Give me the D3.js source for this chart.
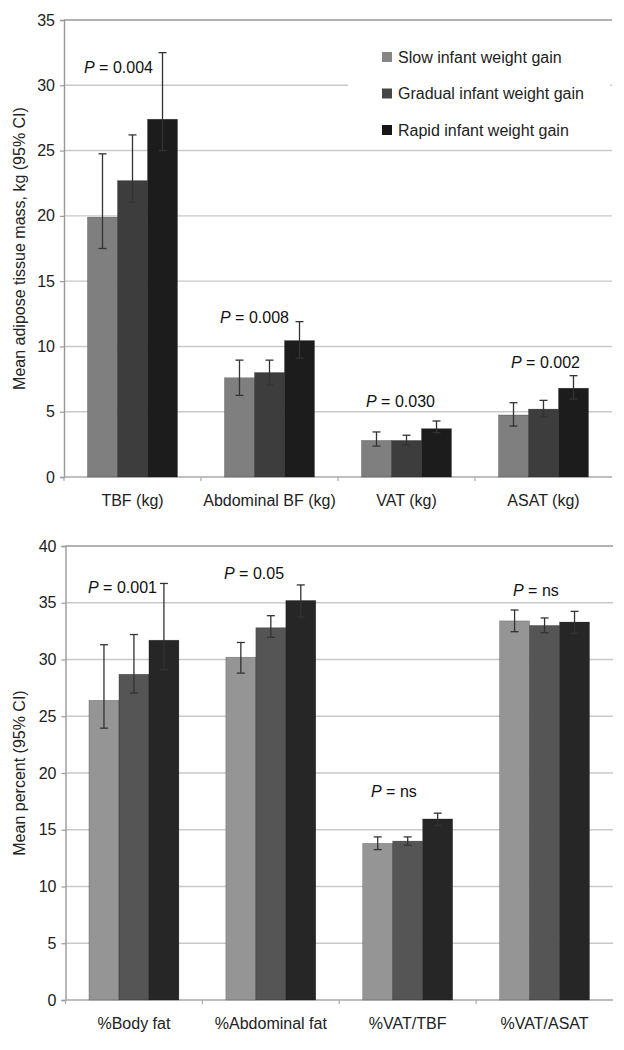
<!DOCTYPE html>
<html>
<head>
<meta charset="utf-8">
<script src="https://cdn.jsdelivr.net/npm/d3@7"></script>
<style>
  html, body { margin: 0; padding: 0; background: #fff; }
  text { font-family: "Liberation Sans", Arial, Helvetica, sans-serif; }
</style>
</head>
<body>
<svg id="chart" width="624" height="1050"></svg>
<script>
// ---------- DATA ----------
const series = ["Slow infant weight gain", "Gradual infant weight gain", "Rapid infant weight gain"];

// Top panel: adipose tissue mass (kg)
const topCategories = ["TBF (kg)", "Abdominal BF (kg)", "VAT (kg)", "ASAT (kg)"];
const topMeans = [
  [19.9, 22.7, 27.4],
  [7.6, 8.0, 10.45],
  [2.8, 2.8, 3.7],
  [4.75, 5.2, 6.8]
];
const topLower = [
  [17.5, 21.05, 25.0],
  [6.25, 7.05, 9.1],
  [2.37, 2.45, 3.4],
  [3.9, 4.62, 5.97]
];
const topUpper = [
  [24.75, 26.2, 32.5],
  [8.95, 8.95, 11.9],
  [3.45, 3.2, 4.29],
  [5.69, 5.87, 7.76]
];
const topPLabels = ["0.004", "0.008", "0.030", "0.002"];
const topTicks = [0, 5, 10, 15, 20, 25, 30, 35];

// Bottom panel: percent
const botCategories = ["%Body fat", "%Abdominal fat", "%VAT/TBF", "%VAT/ASAT"];
const botMeans = [
  [26.4, 28.7, 31.7],
  [30.2, 32.8, 35.2],
  [13.8, 14.0, 15.95],
  [33.4, 33.0, 33.3]
];
const botLower = [
  [23.95, 27.05, 29.1],
  [28.8, 31.95, 33.75],
  [13.25, 13.64, 15.37],
  [32.45, 32.36, 32.3]
];
const botUpper = [
  [31.3, 32.2, 36.7],
  [31.5, 33.86, 36.57],
  [14.37, 14.37, 16.46],
  [34.36, 33.66, 34.24]
];
const botPLabels = ["0.001", "0.05", "ns", "ns"];
const botTicks = [0, 5, 10, 15, 20, 25, 30, 35, 40];

// ---------- DRAW ----------
const svg = d3.select("#chart");

function panel(opts) {
  const { cats, means, lower, upper, pLabels, ticks, yMax, x0, x1, yTop, yBottom,
          colors, title, pPos, legend } = opts;
  const g = svg.append("g");

  const x = d3.scaleBand().domain(cats).range([x0, x1]).paddingInner(0.343).paddingOuter(0.1715);
  const xs = d3.scaleBand().domain(series).range([0, x.bandwidth()]);
  const y = d3.scaleLinear().domain([0, yMax]).range([yBottom, yTop]);

  // gridlines
  g.append("g").selectAll("line").data(ticks.filter(t => t > 0)).join("line")
    .attr("x1", x0).attr("x2", x1)
    .attr("y1", d => y(d)).attr("y2", d => y(d))
    .attr("stroke", d => d === yMax ? "#999" : "#c9c9c9")
    .attr("stroke-width", 1.4);

  // legend background (covers gridline)
  if (legend) {
    g.append("rect").attr("x", 348).attr("y", 34).attr("width", 262).attr("height", 112).attr("fill", "#fff");
  }

  // y axis
  const yAxis = d3.axisLeft(y).tickValues(ticks).tickSize(4).tickPadding(5).tickFormat(d3.format("d"));
  const ya = g.append("g").attr("transform", `translate(${x0},0)`).call(yAxis);
  ya.select(".domain").attr("stroke", "#999").attr("stroke-width", 1.4);
  ya.selectAll(".tick line").attr("stroke", "#999").attr("stroke-width", 1.2);
  ya.selectAll(".tick text").attr("font-size", 16).attr("fill", "#222")
    .attr("font-family", '"Liberation Sans", Arial, sans-serif');

  // x axis baseline and category separators
  const step = x.step();
  const seps = d3.range(cats.length + 1).map(i => x0 + i * step);
  g.append("line").attr("x1", x0).attr("x2", x1).attr("y1", yBottom).attr("y2", yBottom)
    .attr("stroke", "#aaa").attr("stroke-width", 1.4);
  g.append("g").selectAll("line").data(seps.slice(0, cats.length)).join("line")
    .attr("x1", d => d).attr("x2", d => d).attr("y1", yBottom).attr("y2", yBottom + 4)
    .attr("stroke", "#aaa").attr("stroke-width", 1.2);

  // category labels
  g.append("g").selectAll("text").data(cats).join("text")
    .attr("x", d => x(d) + x.bandwidth() / 2)
    .attr("y", yBottom + 29)
    .attr("text-anchor", "middle").attr("font-size", 16).attr("fill", "#222")
    .text(d => d);

  // bars
  const flat = [];
  cats.forEach((c, i) => series.forEach((s, j) => flat.push({
    c, s, j, m: means[i][j], lo: lower[i][j], hi: upper[i][j]
  })));

  g.append("g").selectAll("rect").data(flat).join("rect")
    .attr("x", d => x(d.c) + xs(d.s))
    .attr("y", d => y(d.m))
    .attr("width", xs.bandwidth())
    .attr("height", d => y(0) - y(d.m))
    .attr("fill", d => colors[d.j])
    .attr("stroke", "rgba(0,0,0,0.35)").attr("stroke-width", 0.6);

  // error bars
  const eb = g.append("g").selectAll("g").data(flat).join("g")
    .attr("stroke", "#333").attr("stroke-width", 1.3);
  const cx = d => x(d.c) + xs(d.s) + xs.bandwidth() / 2;
  eb.append("line").attr("x1", cx).attr("x2", cx).attr("y1", d => y(d.lo)).attr("y2", d => y(d.hi));
  eb.append("line").attr("x1", d => cx(d) - 4).attr("x2", d => cx(d) + 4).attr("y1", d => y(d.hi)).attr("y2", d => y(d.hi));
  eb.append("line").attr("x1", d => cx(d) - 4).attr("x2", d => cx(d) + 4).attr("y1", d => y(d.lo)).attr("y2", d => y(d.lo));

  // P labels
  const pl = g.append("g").selectAll("text").data(pLabels).join("text")
    .attr("x", (d, i) => pPos[i][0])
    .attr("y", (d, i) => pPos[i][1])
    .attr("font-size", 16).attr("fill", "#111").attr("dominant-baseline", "central");
  pl.append("tspan").attr("font-style", "italic").text("P");
  pl.append("tspan").text(d => " = " + d);

  // y title
  g.append("text")
    .attr("transform", `translate(25,${(yTop + yBottom) / 2}) rotate(-90)`)
    .attr("text-anchor", "middle").attr("font-size", 16).attr("fill", "#222")
    .text(title);

  // legend
  if (legend) {
    const lg = g.append("g").selectAll("g").data(series).join("g")
      .attr("transform", (d, i) => `translate(382,${57 + i * 36.5})`);
    lg.append("rect").attr("x", 0).attr("y", -5).attr("width", 10).attr("height", 10)
      .attr("fill", (d, i) => legend[i]);
    lg.append("text").attr("x", 16).attr("y", 0).attr("dominant-baseline", "central")
      .attr("font-size", 16).attr("fill", "#222").text(d => d);
  }
}

panel({
  cats: topCategories, means: topMeans, lower: topLower, upper: topUpper,
  pLabels: topPLabels, ticks: topTicks, yMax: 35,
  x0: 64, x1: 612, yTop: 20, yBottom: 477,
  colors: ["#7f7f7f", "#3d3d3d", "#1c1c1c"],
  title: "Mean adipose tissue mass, kg (95% CI)",
  pPos: [[84, 67], [220, 317], [366, 401], [511, 362]],
  legend: ["#858585", "#454545", "#161616"]
});

panel({
  cats: botCategories, means: botMeans, lower: botLower, upper: botUpper,
  pLabels: botPLabels, ticks: botTicks, yMax: 40,
  x0: 65.5, x1: 613, yTop: 546, yBottom: 1000,
  colors: ["#959595", "#555555", "#262626"],
  title: "Mean percent (95% CI)",
  pPos: [[88, 587], [224, 573], [371, 791], [513, 590]],
  legend: null
});
</script>
</body>
</html>
